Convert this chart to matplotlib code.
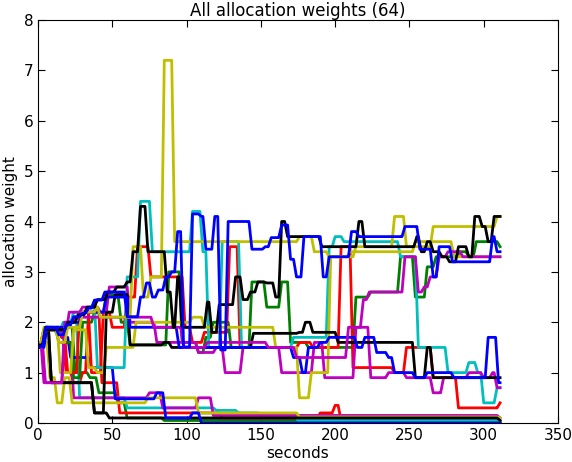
import matplotlib
matplotlib.use("Agg")
import matplotlib.pyplot as plt

# Allocation weights over time: (seconds, weight) change points
t_end = 311

g_low = [(0, 1.55), (5, 1.9), (20, 1.9), (25, 1.0), (35, 0.9), (41, 0.6), (54, 0.4), (60, 0.1), (85, 0.05), (311, 0.02)]
r_low = [(0, 1.6), (4, 1.85), (14, 1.6), (19, 1.0), (24, 0.8), (30, 1.0), (34, 2.2), (40, 2.2), (43, 0.8), (50, 0.8),
         (55, 0.2), (120, 0.2), (124, 0.1), (190, 0.2), (200, 0.35), (204, 0.05), (311, 0.0)]
c_low = [(0, 1.55), (6, 1.9), (12, 1.85), (17, 2.0), (22, 2.0), (28, 0.5), (50, 0.5), (60, 0.3), (105, 0.3),
         (120, 0.25), (135, 0.2), (150, 0.15), (175, 0.05), (311, 0.05)]
m_low = [(0, 1.6), (5, 0.8), (14, 0.8), (18, 1.6), (24, 0.5), (70, 0.5), (75, 0.6), (80, 0.6), (84, 0.3),
         (104, 0.3), (108, 0.5), (114, 0.5), (118, 0.15), (311, 0.1)]
y_low = [(0, 1.6), (8, 0.9), (13, 0.4), (18, 0.9), (23, 0.4), (74, 0.5), (108, 0.2), (176, 0.12), (311, 0.1)]
k_low = [(0, 1.5), (5, 1.9), (9, 0.8), (36, 0.8), (38, 0.2), (45, 0.2), (48, 0.1), (311, 0.05)]
b_low = [(0, 1.55), (5, 1.9), (12, 1.9), (16, 1.7), (22, 1.3), (30, 1.3), (36, 1.1), (44, 1.1), (50, 1.1),
         (52, 0.48), (78, 0.48), (80, 0.6), (84, 0.6), (86, 0.1), (100, 0.1), (104, 0.2), (110, 0.0), (311, 0.0)]

g_mid = [(0, 1.55), (5, 1.85), (14, 1.85), (18, 1.6), (24, 0.9), (30, 2.0), (38, 2.2), (46, 2.55), (52, 2.5),
         (56, 2.0), (62, 1.55), (84, 1.55), (88, 3.0), (93, 3.0), (97, 1.6), (104, 1.6), (108, 1.4), (113, 1.7),
         (118, 2.0), (126, 2.0), (130, 1.5), (140, 1.5), (144, 2.8), (150, 2.8), (154, 2.3), (160, 2.3),
         (164, 2.8), (170, 1.6), (176, 1.6), (182, 1.5), (205, 1.5), (210, 1.5), (214, 2.5), (220, 2.5),
         (224, 2.6), (240, 2.6), (244, 3.3), (250, 3.3), (254, 2.5), (258, 2.5), (262, 3.1), (268, 3.3),
         (280, 3.3), (284, 3.4), (290, 3.3), (295, 3.6), (311, 3.5)]
r_mid = [(0, 1.6), (4, 1.85), (12, 1.9), (16, 1.7), (20, 1.0), (24, 1.0), (28, 2.2), (34, 2.2), (36, 1.0),
         (40, 1.0), (44, 2.2), (50, 1.9), (56, 1.9), (60, 2.5), (64, 2.5), (67, 3.5), (74, 3.5), (76, 2.9),
         (94, 2.9), (99, 1.9), (104, 1.6), (112, 1.8), (126, 1.8), (129, 3.5), (133, 3.5), (136, 1.5),
         (160, 1.5), (176, 1.6), (185, 1.5), (200, 1.5), (204, 3.5), (208, 3.5), (212, 1.1), (240, 1.0),
         (248, 1.5), (262, 1.5), (266, 0.9), (280, 0.9), (283, 0.3), (308, 0.3), (311, 0.4)]
c_mid = [(0, 1.55), (5, 1.9), (12, 1.8), (18, 2.0), (24, 2.2), (34, 2.3), (38, 2.4), (40, 1.1), (58, 1.1),
         (60, 2.9), (64, 2.9), (69, 4.4), (74, 4.4), (77, 3.4), (100, 3.4), (104, 4.2), (108, 4.2), (111, 3.4),
         (115, 1.5), (120, 1.5), (124, 3.6), (132, 3.6), (137, 1.5), (168, 1.5), (172, 1.7), (192, 1.7),
         (196, 3.5), (200, 3.7), (206, 3.6), (240, 3.6), (244, 3.3), (252, 3.3), (256, 1.5), (266, 1.5),
         (270, 1.5), (276, 1.0), (286, 1.0), (290, 1.2), (296, 1.0), (300, 0.4), (306, 0.4), (309, 0.7)]
m_mid = [(0, 1.6), (5, 1.85), (16, 1.8), (21, 2.2), (30, 2.3), (42, 2.2), (48, 2.7), (58, 2.7), (62, 2.0),
         (80, 1.6), (104, 1.6), (108, 1.4), (120, 1.5), (126, 1.0), (134, 1.0), (138, 1.5), (160, 1.5),
         (164, 1.0), (182, 1.0), (186, 1.6), (190, 1.6), (193, 0.9), (210, 0.9), (214, 1.9), (220, 1.9),
         (224, 0.9), (233, 0.9), (236, 1.0), (244, 1.0), (248, 0.9), (262, 0.9), (266, 0.6), (270, 0.6),
         (273, 0.9), (286, 0.9), (290, 1.0), (296, 1.0), (300, 0.9), (306, 1.0), (309, 0.7)]
m_top = [(0, 1.6), (4, 0.8), (13, 0.8), (18, 2.0), (22, 2.0), (25, 2.1), (74, 2.1), (78, 1.9), (95, 1.9),
         (98, 1.5), (110, 1.5), (114, 1.6), (150, 1.6), (155, 1.5), (170, 1.5), (174, 1.3), (205, 1.3),
         (209, 1.9), (215, 1.9), (219, 2.45), (223, 2.6), (243, 2.6), (247, 3.3), (252, 3.3), (256, 2.6),
         (260, 2.7), (264, 2.9), (270, 3.3), (276, 3.4), (282, 3.4), (286, 3.3), (311, 3.3)]
y_top = [(0, 1.6), (5, 1.85), (10, 1.85), (14, 1.6), (20, 1.9), (30, 2.2), (40, 2.3), (42, 2.1), (61, 2.1),
         (64, 3.5), (68, 3.5), (71, 2.5), (76, 2.9), (82, 2.9), (85, 7.2), (89, 7.2), (92, 3.6), (172, 3.6),
         (176, 3.7), (182, 3.7), (186, 3.4), (192, 3.4), (196, 3.3), (210, 3.3), (214, 3.5), (236, 3.5),
         (240, 4.1), (245, 4.1), (248, 3.5), (262, 3.5), (266, 3.9), (305, 3.9), (309, 4.1)]
y_mid = [(0, 1.6), (4, 1.9), (12, 1.9), (15, 1.0), (20, 1.0), (24, 1.85), (30, 1.85), (34, 1.1), (40, 1.0),
         (46, 1.5), (60, 1.5), (66, 2.0), (100, 2.0), (104, 2.1), (112, 1.9), (150, 1.9), (160, 1.5),
         (172, 1.5), (176, 0.5), (180, 0.5), (184, 1.0), (194, 1.0), (197, 3.3), (206, 3.3), (210, 3.4),
         (250, 3.4), (254, 3.6), (276, 3.6), (280, 3.3), (311, 3.3)]
k_mid = [(0, 1.5), (5, 1.9), (9, 0.8), (36, 0.8), (38, 0.2), (42, 0.2), (46, 2.2), (52, 2.55), (58, 2.55),
         (62, 1.55), (85, 1.6), (90, 1.5), (140, 1.5), (145, 1.78), (168, 1.78), (176, 1.8), (180, 2.0),
         (185, 1.8), (202, 1.6), (250, 1.6), (254, 0.9), (262, 1.5), (266, 0.9), (311, 0.9)]
b_mid = [(0, 1.5), (6, 1.9), (15, 1.9), (20, 2.0), (30, 2.2), (46, 2.5), (58, 2.5), (62, 1.9), (90, 1.9),
         (95, 1.5), (134, 1.5), (168, 1.5), (172, 1.3), (178, 1.0), (182, 1.5), (190, 1.6), (196, 1.7),
         (215, 1.5), (220, 1.7), (228, 1.4), (236, 1.3), (240, 1.0), (246, 1.0), (254, 0.9), (262, 1.0),
         (280, 0.9), (300, 0.9), (303, 1.7), (308, 1.7), (310, 0.8)]
k_top = [(0, 1.55), (5, 1.85), (12, 1.85), (20, 2.0), (27, 2.15), (33, 2.3), (40, 2.45), (47, 2.6), (53, 2.7),
         (60, 2.8), (64, 3.4), (69, 4.3), (74, 3.4), (84, 3.4), (87, 2.6), (91, 1.9), (94, 2.9), (97, 1.9),
         (111, 1.9), (114, 2.4), (117, 1.8), (122, 2.35), (133, 2.9), (138, 2.45), (143, 2.6), (148, 2.8),
         (154, 2.78), (160, 2.5), (164, 4.0), (168, 3.7), (188, 3.7), (191, 3.5), (210, 3.5), (216, 4.0),
         (220, 3.5), (252, 3.5), (255, 3.7), (258, 3.4), (262, 3.6), (266, 3.4), (272, 3.3), (277, 3.2),
         (283, 3.5), (290, 3.3), (294, 4.1), (299, 3.9), (303, 3.6), (307, 4.1)]
b_top = [(0, 1.52), (5, 1.89), (14, 1.75), (19, 1.95), (24, 2.11), (30, 2.18), (34, 2.28), (38, 2.44), (45, 2.6),
         (58, 2.6), (60, 2.11), (69, 2.5), (73, 2.78), (77, 2.5), (81, 2.64), (86, 2.9), (90, 3.0), (94, 3.8),
         (98, 1.51), (104, 4.15), (110, 4.1), (113, 3.45), (119, 4.1), (123, 1.45), (128, 4.0), (141, 4.0),
         (144, 3.45), (153, 3.5), (157, 3.68), (164, 3.93), (170, 3.25), (174, 2.9), (179, 3.7), (189, 3.7),
         (192, 2.9), (196, 3.3), (208, 3.3), (211, 3.8), (216, 3.7), (244, 3.7), (247, 3.9), (254, 3.9),
         (257, 3.45), (262, 3.45), (266, 2.9), (270, 3.5), (275, 3.5), (279, 3.2), (303, 3.2), (306, 3.7),
         (309, 3.4)]

series = [("g", g_low), ("r", r_low), ("c", c_low), ("m", m_low), ("y", y_low), ("k", k_low), ("b", b_low),
          ("g", g_mid), ("r", r_mid), ("c", c_mid), ("m", m_mid), ("y", y_mid), ("k", k_mid), ("b", b_mid),
          ("m", m_top), ("y", y_top), ("k", k_top), ("b", b_top)]


def step_line(pts, ramp=2.0):
    xs, ys = [], []
    for i, (t, v) in enumerate(pts):
        xs.append(t)
        ys.append(v)
        nxt = pts[i + 1][0] if i + 1 < len(pts) else t_end + ramp
        xs.append(max(t, nxt - ramp))
        ys.append(v)
    return xs, ys


colors = {"b": "#0000ff", "g": "#008000", "r": "#ff0000", "c": "#00bfbf",
          "m": "#bf00bf", "y": "#bfbf00", "k": "#000000"}

plt.rcParams['font.family'] = 'DejaVu Sans'
fig = plt.figure(figsize=(5.72, 4.62), dpi=100)
ax = fig.add_axes([38 / 572, 39 / 462, 520 / 572, 403 / 462])

for c, pts in series:
    xs, ys = step_line(pts)
    ax.plot(xs, ys, color=colors[c], linewidth=2)

ax.set_xlim(0, 350)
ax.set_ylim(0, 8)
ax.set_title("All allocation weights (64)", fontsize=12, pad=3)
ax.set_xlabel("seconds", fontsize=11, labelpad=2)
ax.set_ylabel("allocation weight", fontsize=11, labelpad=4)
ax.tick_params(direction='in', top=True, right=True, length=5, labelsize=11)

fig.savefig("out.png", dpi=100)
